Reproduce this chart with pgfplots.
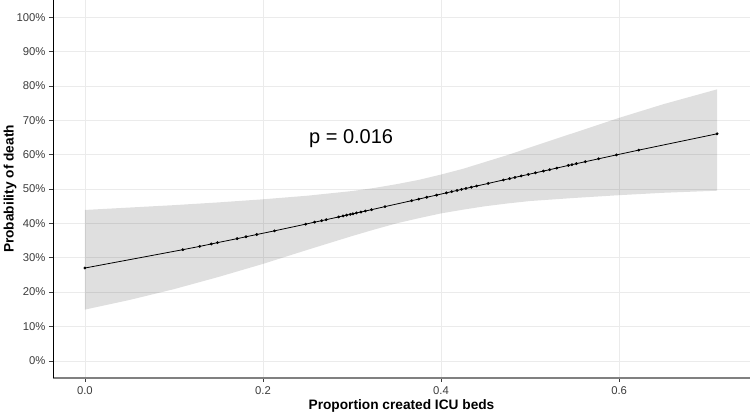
\documentclass[border=0pt]{standalone}
\usepackage{pgfplots}
\pgfplotsset{compat=1.18}
\usepackage{fontspec}
\setmainfont{Liberation Sans}
\definecolor{gridc}{RGB}{235,235,235}
\definecolor{tickc}{RGB}{60,60,60}
\begin{document}
\begin{tikzpicture}
\useasboundingbox (-53pt,-36pt) rectangle (697pt,378pt);
\begin{axis}[
 scale only axis, width=697pt, height=378pt,
 xmin=-0.0358, xmax=0.747, ymin=-5, ymax=105,
 axis x line*=bottom, axis y line*=left,
 axis line style={-},
 x axis line style={-, draw=gray, line width=1.4pt},
 y axis line style={-, draw=black, line width=0.7pt},
 xtick={0,0.2,0.4,0.6}, xticklabels={0.0,0.2,0.4,0.6},
 ytick={0,10,...,100},
 yticklabels={0\%,10\%,20\%,30\%,40\%,50\%,60\%,70\%,80\%,90\%,100\%},
 tick align=outside, major tick length=4pt,
 tick style={draw=tickc, line width=0.6pt},
 ticklabel style={font=\fontsize{11.3}{13}\selectfont, text=tickc},
 xticklabel style={yshift=-1pt},
 grid=major, major grid style={draw=gridc, line width=0.6pt},
 xlabel={Proportion created ICU beds},
 ylabel={Probability of death},
 every axis x label/.style={at={(axis description cs:0.5,0)}, yshift=-28pt, anchor=center, font=\fontsize{13.7}{15}\selectfont\bfseries},
 every axis y label/.style={at={(axis description cs:0,0.5)}, xshift=-43pt, rotate=90, anchor=center, font=\fontsize{13.7}{15}\selectfont\bfseries},
 clip=false,
]
\addplot[draw=none, fill=black, fill opacity=0.125] coordinates {
(0,43.9) (0.05,44.6) (0.1,45.3) (0.15,46.1) (0.2,47.0) (0.25,48.05) (0.3,49.4) (0.325,50.3) (0.35,51.4) (0.375,52.65) (0.4,54.2) (0.425,55.9) (0.45,57.9) (0.475,59.9) (0.5,62.1) (0.55,66.4) (0.6,70.7) (0.65,74.7) (0.71,79.0)
(0.71,49.5) (0.65,48.9) (0.6,48.2) (0.55,47.4) (0.5,46.5) (0.475,45.8) (0.45,45.0) (0.425,44.0) (0.4,42.9) (0.375,41.5) (0.35,40.0) (0.325,38.2) (0.3,36.3) (0.25,32.3) (0.2,28.2) (0.15,24.4) (0.1,20.85) (0.05,17.7) (0,14.9)
} -- cycle;
\addplot[black, line width=0.8pt, mark=*, mark size=1pt] coordinates {
(0.000,27.0) (0.110,32.34) (0.129,33.3) (0.142,34.0) (0.149,34.39) (0.171,35.55) (0.181,36.1) (0.193,36.75) (0.213,37.82) (0.248,39.77) (0.258,40.35) (0.266,40.78) (0.271,41.07) (0.285,41.87) (0.290,42.16) (0.294,42.39) (0.298,42.61) (0.301,42.78) (0.305,43.03) (0.310,43.29) (0.315,43.59) (0.322,43.98) (0.337,44.87) (0.367,46.6) (0.375,47.06) (0.384,47.6) (0.395,48.22) (0.406,48.88) (0.412,49.23) (0.418,49.58) (0.423,49.88) (0.428,50.17) (0.434,50.52) (0.440,50.87) (0.453,51.62) (0.470,52.63) (0.477,53.02) (0.483,53.37) (0.490,53.79) (0.498,54.24) (0.506,54.71) (0.515,55.22) (0.522,55.62) (0.530,56.09) (0.543,56.86) (0.547,57.08) (0.552,57.37) (0.562,57.94) (0.577,58.79) (0.597,59.92) (0.622,61.31) (0.710,66.06)
};
\node[font=\fontsize{20}{24}\selectfont, anchor=center] at (axis cs:0.299,64.8) {p = 0.016};
\end{axis}
\end{tikzpicture}
\end{document}
